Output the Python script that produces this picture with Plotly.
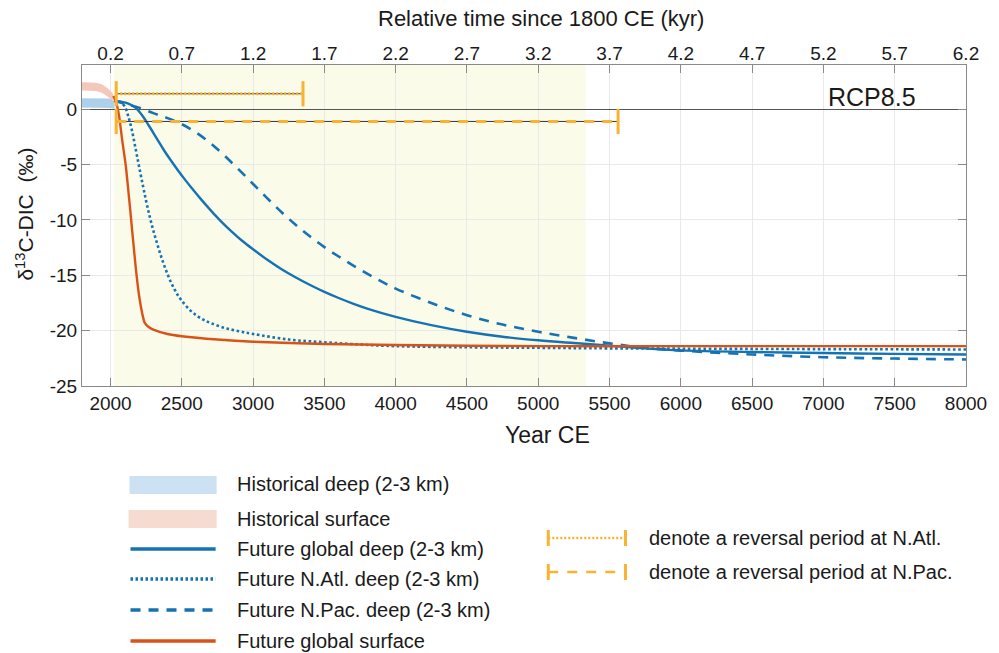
import plotly.graph_objects as go

# ---------------- data ----------------
year_ticks = [2000, 2500, 3000, 3500, 4000, 4500, 5000, 5500, 6000, 6500, 7000, 7500, 8000]
kyr_ticks = [0.2, 0.7, 1.2, 1.7, 2.2, 2.7, 3.2, 3.7, 4.2, 4.7, 5.2, 5.7, 6.2]
kyr_ticktext = ["0.2", "0.7", "1.2", "1.7", "2.2", "2.7", "3.2", "3.7", "4.2", "4.7", "5.2", "5.7", "6.2"]
y_ticks = [-25, -20, -15, -10, -5, 0]
y_ticktext = ["-25", "-20", "-15", "-10", "-5", "0"]

shade_period = [2025, 5335]

hist_deep_year = [1800, 1850, 1900, 1950, 1980, 2000, 2015, 2028]
hist_deep_hi = [1.0, 1.0, 1.0, 1.0, 0.97, 0.92, 0.8, 0.68]
hist_deep_lo = [0.15, 0.15, 0.15, 0.15, 0.15, 0.12, 0.08, 0.05]

hist_surf_year = [1800, 1850, 1900, 1940, 1960, 1980, 2000, 2020]
hist_surf_hi = [2.45, 2.45, 2.4, 2.25, 2.1, 1.9, 1.65, 1.35]
hist_surf_lo = [1.7, 1.7, 1.65, 1.5, 1.35, 1.15, 0.9, 0.7]

surf_year = [2020, 2040, 2060, 2080, 2107, 2142, 2176, 2200, 2225, 2240, 2270, 2300, 2400,
             2500, 2750, 3000, 3500, 4000, 5000, 6000, 7000, 8000]
surf_val = [1.2, 0.6, -0.6, -2.6, -5.1, -9.6, -14.2, -16.8, -18.6, -19.3, -19.7, -19.9, -20.3,
            -20.5, -20.8, -21.0, -21.2, -21.3, -21.4, -21.4, -21.4, -21.4]

natl_year = [2025, 2050, 2075, 2100, 2125, 2150, 2175, 2200, 2225, 2250, 2275, 2300, 2325,
             2350, 2375, 2400, 2425, 2450, 2475, 2500, 2550, 2600, 2650, 2700, 2800, 2900,
             3000, 3250, 3500, 3750, 4000, 4500, 5000, 5500, 6500, 8000]
natl_val = [0.9, 0.8, 0.6, 0.25, -0.65, -1.9, -3.5, -5.15, -6.75, -8.3, -9.7, -10.95, -12.05,
            -13.1, -14.05, -14.9, -15.65, -16.3, -16.85, -17.3, -18.05, -18.6, -19.0, -19.3,
            -19.75, -20.05, -20.3, -20.8, -21.05, -21.25, -21.4, -21.5, -21.55, -21.6, -21.65,
            -21.7]

glob_year = [2025, 2075, 2125, 2175, 2225, 2275, 2325, 2375, 2425, 2475, 2525, 2575, 2625,
             2675, 2725, 2775, 2850, 2925, 3000, 3100, 3200, 3300, 3400, 3500, 3600, 3700,
             3800, 4000, 4250, 4500, 4750, 5000, 5250, 5500, 5750, 6000, 6500, 7000, 7500, 8000]
glob_val = [0.75, 0.68, 0.52, 0.15, -0.6, -1.6, -2.65, -3.7, -4.65, -5.55, -6.4, -7.2, -7.98,
            -8.73, -9.45, -10.12, -11.05, -11.9, -12.65, -13.6, -14.45, -15.2, -15.88, -16.5,
            -17.05, -17.55, -18.0, -18.75, -19.5, -20.1, -20.55, -20.87, -21.12, -21.35,
            -21.6, -21.78, -21.93, -22.02, -22.1, -22.15]

npac_year = [2025, 2100, 2200, 2300, 2400, 2500, 2600, 2700, 2800, 2900, 3000, 3100, 3200,
             3300, 3400, 3500, 3600, 3700, 3800, 3900, 4000, 4250, 4500, 4750, 5000, 5250,
             5500, 5750, 6000, 6500, 7000, 7500, 8000]
npac_val = [0.8, 0.5, 0.15, -0.35, -0.8, -1.35, -2.1, -3.05, -4.2, -5.45, -6.75, -8.05, -9.3,
            -10.45, -11.5, -12.45, -13.3, -14.1, -14.85, -15.55, -16.2, -17.5, -18.6, -19.45,
            -20.1, -20.65, -21.15, -21.55, -21.8, -22.15, -22.4, -22.52, -22.6]

natl_reversal = [2040, 3350]
natl_reversal_level = 1.4
npac_reversal = [2040, 5560]
npac_reversal_level = -1.1

legend_labels = ["Historical deep (2-3 km)", "Historical surface", "Future global deep (2-3 km)",
                 "Future N.Atl. deep (2-3 km)", "Future N.Pac. deep (2-3 km)", "Future global surface"]
legend_labels_right = ["denote a reversal period at N.Atl.", "denote a reversal period at N.Pac."]

# ---------------- styles ----------------
BLUE = "#1573B3"
ORANGE = "#D95319"
YEL = "#F9B233"
BAND_BLUE = "#AED0EA"
BAND_PINK = "#F3C8B9"
FONT = "Liberation Sans, Arial, Helvetica, sans-serif"
TXT = "#1a1a1a"
AX = "#8a8a8a"

W, H = 999, 653
L, R, T, B = 82, 975, 65, 386


def px(X):
    return (X - L) / (R - L)


def py(Y):
    return (B - Y) / (B - T)


fig = go.Figure()

# historical bands
fig.add_trace(go.Scatter(x=hist_deep_year, y=hist_deep_lo, mode="lines", line=dict(width=0),
                         showlegend=False, hoverinfo="skip"))
fig.add_trace(go.Scatter(x=hist_deep_year, y=hist_deep_hi, mode="lines", line=dict(width=0),
                         fill="tonexty", fillcolor=BAND_BLUE, showlegend=False))
fig.add_trace(go.Scatter(x=hist_surf_year, y=hist_surf_lo, mode="lines", line=dict(width=0),
                         showlegend=False, hoverinfo="skip"))
fig.add_trace(go.Scatter(x=hist_surf_year, y=hist_surf_hi, mode="lines", line=dict(width=0),
                         fill="tonexty", fillcolor=BAND_PINK, showlegend=False))

# future curves
fig.add_trace(go.Scatter(x=natl_year, y=natl_val, mode="lines", line_shape="spline",
                         line=dict(color=BLUE, width=2.6, dash="2.6px,2.6px", smoothing=1.0),
                         showlegend=False))
fig.add_trace(go.Scatter(x=npac_year, y=npac_val, mode="lines", line_shape="spline",
                         line=dict(color=BLUE, width=2.6, dash="10px,8px", smoothing=1.0),
                         showlegend=False))
fig.add_trace(go.Scatter(x=glob_year, y=glob_val, mode="lines", line_shape="spline",
                         line=dict(color=BLUE, width=2.4, smoothing=1.0), showlegend=False))
fig.add_trace(go.Scatter(x=surf_year, y=surf_val, mode="lines", line_shape="spline",
                         line=dict(color=ORANGE, width=2.4, smoothing=0.6), showlegend=False))

# reversal periods
for period, lev, dash in [(natl_reversal, natl_reversal_level, "2px,2px"),
                          (npac_reversal, npac_reversal_level, "10px,8px")]:
    fig.add_trace(go.Scatter(x=period, y=[lev, lev], mode="lines",
                             line=dict(color="#333333", width=1), showlegend=False))
    fig.add_trace(go.Scatter(x=period, y=[lev, lev], mode="lines",
                             line=dict(color=YEL, width=3, dash=dash), showlegend=False))
    fig.add_trace(go.Scatter(x=period, y=[lev, lev], mode="markers",
                             marker=dict(symbol="line-ns", size=18,
                                         line=dict(color=YEL, width=3)), showlegend=False))

# dummy trace for top axis
fig.add_trace(go.Scatter(x=[kyr_ticks[0], kyr_ticks[-1]], y=[None, None], xaxis="x2",
                         mode="lines", showlegend=False, hoverinfo="skip"))

shapes = [dict(type="rect", xref="x", yref="paper", x0=shade_period[0], x1=shade_period[1],
               y0=0, y1=1, fillcolor="#FBFBEA", line=dict(width=0), layer="below")]

annotations = []

# legend (left column)
text_x = px(237)
rows = [484, 519, 549, 579, 610, 641]
shapes.append(dict(type="rect", xref="paper", yref="paper", x0=px(130), x1=px(218),
                   y0=py(494), y1=py(476), fillcolor="#CCE2F2", line=dict(width=0)))
shapes.append(dict(type="rect", xref="paper", yref="paper", x0=px(129), x1=px(218),
                   y0=py(528), y1=py(510), fillcolor="#F6DBD0", line=dict(width=0)))
for Y, col, dash in [(rows[2], BLUE, "solid"), (rows[3], BLUE, "2.5px,2.5px"),
                     (rows[4], BLUE, "10px,8px"), (rows[5], ORANGE, "solid")]:
    shapes.append(dict(type="line", xref="paper", yref="paper", x0=px(131), x1=px(217),
                       y0=py(Y), y1=py(Y), line=dict(color=col, width=3.5, dash=dash)))
for lab, Y in zip(legend_labels, rows):
    annotations.append(dict(text=lab, xref="paper", yref="paper", x=text_x, y=py(Y),
                            xanchor="left", yanchor="middle", showarrow=False,
                            font=dict(size=20, color=TXT, family=FONT)))

# legend (right column)
rrows = [538, 572]
for Y, dash, lab in [(rrows[0], "2px,2px", legend_labels_right[0]),
                     (rrows[1], "10px,9px", legend_labels_right[1])]:
    shapes.append(dict(type="line", xref="paper", yref="paper", x0=px(553), x1=px(631),
                       y0=py(Y), y1=py(Y), line=dict(color=YEL, width=2.5, dash=dash)))
    for Xc in (553, 631):
        shapes.append(dict(type="line", xref="paper", yref="paper", x0=px(Xc), x1=px(Xc),
                           y0=py(Y - 8), y1=py(Y + 8), line=dict(color=YEL, width=3)))
    annotations.append(dict(text=lab, xref="paper", yref="paper", x=px(653), y=py(Y),
                            xanchor="left", yanchor="middle", showarrow=False,
                            font=dict(size=20, color=TXT, family=FONT)))

# titles
annotations.append(dict(text="Relative time since 1800 CE (kyr)", xref="paper", yref="paper",
                        x=px(546), y=py(18), xanchor="center", yanchor="middle", showarrow=False,
                        font=dict(size=22, color=TXT, family=FONT)))
annotations.append(dict(text="Year CE", xref="paper", yref="paper",
                        x=px(552), y=py(435), xanchor="center", yanchor="middle", showarrow=False,
                        font=dict(size=23, color=TXT, family=FONT)))
annotations.append(dict(text="δ<sup>13</sup>C-DIC  (‰)", xref="paper", yref="paper",
                        x=px(24), y=py(214), xanchor="center", yanchor="middle", showarrow=False,
                        textangle=-90, font=dict(size=21, color=TXT, family=FONT)))
annotations.append(dict(text="RCP8.5", xref="x", yref="y", x=7020, y=1.1,
                        xanchor="left", yanchor="middle", showarrow=False,
                        font=dict(size=25, color=TXT, family=FONT)))

fig.update_layout(
    width=W, height=H,
    margin=dict(l=L, r=W - R, t=T, b=H - B, pad=0),
    paper_bgcolor="white", plot_bgcolor="white",
    font=dict(family=FONT, color=TXT),
    showlegend=False,
    xaxis=dict(range=[1800, 8000], tickvals=year_ticks, ticks="inside", ticklen=8,
               tickcolor=AX, showline=True, linecolor=AX, linewidth=1, mirror=True,
               showgrid=True, gridcolor="#e9e9e9", gridwidth=1, zeroline=False,
               tickfont=dict(size=19, color=TXT, family=FONT)),
    xaxis2=dict(range=[0, 6.2], overlaying="x", side="top", tickvals=kyr_ticks,
                ticktext=kyr_ticktext, ticks="inside", ticklen=8, tickcolor=AX,
                showline=False, showgrid=False, zeroline=False,
                tickfont=dict(size=19, color=TXT, family=FONT)),
    yaxis=dict(range=[-25, 4], tickvals=y_ticks, ticktext=y_ticktext, ticks="inside",
               ticklen=8, tickcolor=AX, showline=True, linecolor=AX, linewidth=1,
               mirror="ticks", showgrid=True, gridcolor="#e9e9e9", gridwidth=1,
               zeroline=True, zerolinecolor="#555555", zerolinewidth=1,
               tickfont=dict(size=19, color=TXT, family=FONT)),
    shapes=shapes,
    annotations=annotations,
)

fig.write_html("out.html")
